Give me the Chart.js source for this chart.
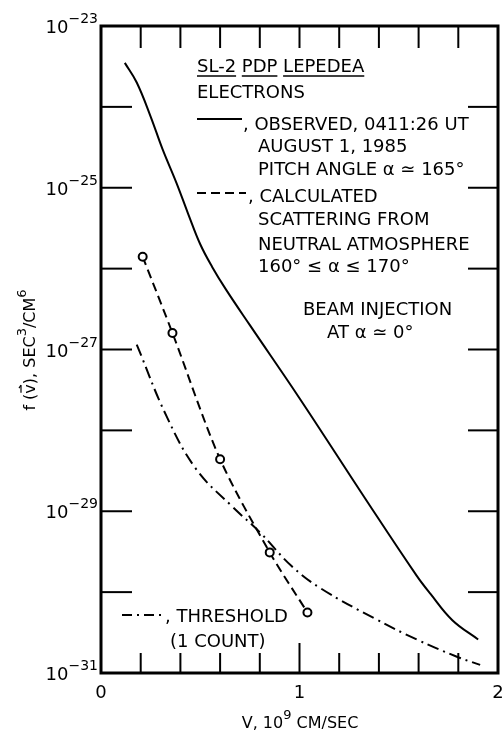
<!DOCTYPE html>
<html>
<head>
<meta charset="utf-8">
<script src="https://cdn.jsdelivr.net/npm/chart.js@4.4.0/dist/chart.umd.min.js"></script>
<style>
  body { margin: 0; background: #fff; }
  canvas { display: block; }
</style>
</head>
<body>
<canvas id="chart" width="504" height="732"></canvas>
<script>
// velocity, 10^9 cm/sec
const observedV = [0.12, 0.18, 0.25, 0.31, 0.38, 0.44, 0.50, 0.56, 0.63, 0.75, 1.00, 1.33, 1.59, 1.66, 1.77, 1.90]
// f(v), sec^3/cm^6
const observedF = [3.5e-24, 2.0e-24, 7.6e-25, 3.0e-25, 1.15e-25, 4.7e-26, 2.0e-26, 1.05e-26, 5.5e-27, 2.0e-27, 2.5e-28, 1.45e-29, 1.6e-30, 9.5e-31, 4.5e-31, 2.6e-31]

const calcV = [0.21, 0.36, 0.60, 0.85, 1.04]
const calcF = [1.4e-26, 1.6e-27, 4.4e-29, 3.1e-30, 5.6e-31]

const threshV = [0.18, 0.33, 0.48, 0.66, 0.80, 0.96, 1.11, 1.38, 1.59, 1.79, 1.91]
const threshF = [1.15e-27, 1.5e-28, 3.3e-29, 1.15e-29, 5.5e-30, 2.1e-30, 1.1e-30, 4.7e-31, 2.6e-31, 1.6e-31, 1.26e-31]

// axis ticks
const xMajor = [0, 1, 2]
const xMinor = [0.2, 0.4, 0.6, 0.8, 1.2, 1.4, 1.6, 1.8]
const yDecades = [-23, -24, -25, -26, -27, -28, -29, -30, -31]
const yLabelled = [-23, -25, -27, -29, -31]

const FONT = '"DejaVu Sans", sans-serif'
const DASHED = [9, 5]
const DASHDOT = [12, 5, 2, 5]

function pts(xs, ys) {
  return xs.map((x, i) => ({ x: x, y: ys[i] }))
}

// draws text with superscript runs, e.g. [['10'], ['−23', 1]]
function runs(ctx, x, y, parts, size, align) {
  const supSize = Math.round(size * 0.8)
  let w = 0
  parts.forEach(p => {
    ctx.font = (p[1] ? supSize : size) + 'px ' + FONT
    w += ctx.measureText(p[0]).width
  })
  let cx = x
  if (align === 'right') cx = x - w
  if (align === 'center') cx = x - w / 2
  ctx.textAlign = 'left'
  ctx.textBaseline = 'alphabetic'
  parts.forEach(p => {
    ctx.font = (p[1] ? supSize : size) + 'px ' + FONT
    ctx.fillText(p[0], cx, p[1] ? y - size * 0.55 : y)
    cx += ctx.measureText(p[0]).width
  })
  return w
}

function line(ctx, x1, y1, x2, y2, w, dash) {
  ctx.save()
  ctx.lineWidth = w
  ctx.setLineDash(dash || [])
  ctx.beginPath()
  ctx.moveTo(x1, y1)
  ctx.lineTo(x2, y2)
  ctx.stroke()
  ctx.restore()
}

const decor = {
  id: 'decor',
  afterDraw(chart) {
    const ctx = chart.ctx
    const a = chart.chartArea
    const xs = chart.scales.x
    const ys = chart.scales.y
    ctx.save()
    ctx.strokeStyle = '#000'
    ctx.fillStyle = '#000'

    // frame
    ctx.lineWidth = 3
    ctx.strokeRect(a.left, a.top, a.right - a.left, a.bottom - a.top)

    // inward ticks
    xMinor.forEach(v => {
      const px = xs.getPixelForValue(v)
      line(ctx, px, a.bottom, px, a.bottom - 20, 2)
      line(ctx, px, a.top, px, a.top + 22, 2)
    })
    const p1 = xs.getPixelForValue(1)
    line(ctx, p1, a.bottom, p1, a.bottom - 30, 2)
    line(ctx, p1, a.top, p1, a.top + 22, 2)
    yDecades.forEach(d => {
      const py = ys.getPixelForValue(Math.pow(10, d))
      line(ctx, a.left, py, a.left + 31, py, 2)
      line(ctx, a.right, py, a.right - 30, py, 2)
    })

    // tick labels
    yLabelled.forEach(d => {
      const py = ys.getPixelForValue(Math.pow(10, d))
      runs(ctx, a.left - 3, py + 7, [['10'], ['−' + (-d), 1]], 18, 'right')
    })
    ctx.font = '18px ' + FONT
    ctx.textAlign = 'center'
    xMajor.forEach(v => {
      ctx.fillText(String(v), xs.getPixelForValue(v), 698)
    })

    // axis titles
    runs(ctx, 300, 728, [['V, 10'], ['9', 1], [' CM/SEC']], 16, 'center')
    ctx.save()
    ctx.translate(35, 350)
    ctx.rotate(-Math.PI / 2)
    const tw = runs(ctx, 0, 0, [['f (v), SEC'], ['3', 1], ['/CM'], ['6', 1]], 16, 'center')
    // arrow over the v
    ctx.font = '16px ' + FONT
    const vx = -tw / 2 + ctx.measureText('f (').width
    const vw = ctx.measureText('v').width
    line(ctx, vx + 1, -14, vx + vw - 1, -14, 1.2)
    line(ctx, vx + vw - 4, -16, vx + vw - 1, -14, 1.2)
    ctx.restore()

    // annotation block
    ctx.font = '18px ' + FONT
    ctx.textAlign = 'left'
    let x = 197
    const words = ['SL-2', 'PDP', 'LEPEDEA']
    words.forEach(wd => {
      ctx.fillText(wd, x, 72)
      const w = ctx.measureText(wd).width
      line(ctx, x, 76, x + w, 76, 1.5)
      x += w + ctx.measureText(' ').width
    })
    ctx.fillText('ELECTRONS', 197, 98)

    line(ctx, 197, 119, 242, 119, 2)
    ctx.fillText(', OBSERVED, 0411:26 UT', 243, 130)
    ctx.fillText('AUGUST 1, 1985', 258, 152)
    ctx.fillText('PITCH ANGLE α ≃ 165°', 258, 175)

    line(ctx, 197, 193, 246, 193, 2, DASHED)
    ctx.fillText(', CALCULATED', 248, 202)
    ctx.fillText('SCATTERING FROM', 258, 225)
    ctx.fillText('NEUTRAL ATMOSPHERE', 258, 250)
    ctx.fillText('160° ≤ α ≤ 170°', 258, 272)

    ctx.fillText('BEAM INJECTION', 303, 315)
    ctx.fillText('AT α ≃ 0°', 327, 338)

    line(ctx, 122, 615, 164, 615, 2, [10, 5, 2, 5])
    ctx.fillText(', THRESHOLD', 165, 622)
    ctx.fillText('(1 COUNT)', 170, 647)

    ctx.restore()
  }
}

new Chart(document.getElementById('chart'), {
  type: 'scatter',
  data: {
    datasets: [
      {
        label: 'Observed',
        data: pts(observedV, observedF),
        showLine: true,
        borderColor: '#000',
        borderWidth: 2,
        pointRadius: 0,
        tension: 0.4
      },
      {
        label: 'Calculated',
        data: pts(calcV, calcF),
        showLine: true,
        borderColor: '#000',
        borderWidth: 2,
        borderDash: DASHED,
        pointRadius: 4,
        pointBorderWidth: 2,
        pointBackgroundColor: '#fff',
        pointBorderColor: '#000',
        tension: 0.3
      },
      {
        label: 'Threshold',
        data: pts(threshV, threshF),
        showLine: true,
        borderColor: '#000',
        borderWidth: 2,
        borderDash: DASHDOT,
        pointRadius: 0,
        tension: 0.4
      }
    ]
  },
  options: {
    responsive: false,
    animation: false,
    layout: { padding: { left: 101, right: 3, top: 26, bottom: 59 } },
    plugins: { legend: { display: false }, tooltip: { enabled: false } },
    scales: {
      x: { type: 'linear', min: 0, max: 2, display: false },
      y: { type: 'logarithmic', min: 1e-31, max: 1e-23, display: false }
    }
  },
  plugins: [decor]
})
</script>
</body>
</html>
